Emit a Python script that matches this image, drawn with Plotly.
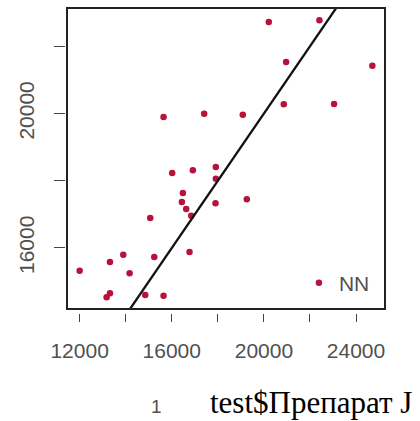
import numpy as np
import plotly.graph_objects as go

# data
nn_x = [20212, 22410, 20964, 24709, 20863, 23046, 15643, 17407, 19084, 16019,
        16916, 17913, 17913, 16482, 16439, 16627, 16843, 17899, 19258, 15065,
        13894, 15239, 16771, 13316, 12000, 14169, 13316, 13171, 14848, 15643]
nn_y = [22724, 22773, 21534, 21425, 20274, 20284, 19897, 19997, 19967, 18231,
        18311, 18410, 18063, 17636, 17369, 17160, 16962, 17329, 17448, 16893,
        15802, 15732, 15881, 15583, 15326, 15246, 14651, 14532, 14602, 14582]

x_tickvals = [12000, 14000, 16000, 18000, 20000, 22000, 24000]
x_ticktext = ["12000", "", "16000", "", "20000", "", "24000"]
y_tickvals = [16000, 18000, 20000, 22000]
y_ticktext = ["16000", "", "20000", ""]

x_range = [11451, 25258]
y_range = [14185, 23140]

# reference line y = a + b*x
line_a, line_b = 0.0, 1.0
line_x = np.array([10000, 26000])
line_y = line_a + line_b * line_x

fig = go.Figure()
fig.add_trace(go.Scatter(
    x=nn_x, y=nn_y, mode="markers", name="NN",
    marker=dict(color="#b8123c", size=6.5, line=dict(width=0)),
))
fig.add_trace(go.Scatter(
    x=line_x, y=line_y, mode="lines", showlegend=False,
    line=dict(color="#111111", width=2.3), hoverinfo="skip",
))

W, H = 420, 421
l, r, t, b = 65, 35, 8, 108
pw, ph = W - l - r, H - t - b

fig.update_layout(
    width=W, height=H,
    margin=dict(l=l, r=r, t=t, b=b, pad=0),
    paper_bgcolor="white", plot_bgcolor="white",
    font=dict(family="Liberation Sans, Arial, sans-serif", color="#505050"),
    showlegend=True,
    legend=dict(x=0.731, y=0.098, xanchor="left", yanchor="middle",
                bgcolor="rgba(0,0,0,0)", font=dict(size=21, color="#505050"),
                itemwidth=30),
    xaxis=dict(range=x_range, domain=[2 / pw, 1], anchor="free", position=0,
               showgrid=False, zeroline=False, showline=False,
               tickmode="array", tickvals=x_tickvals, ticktext=x_ticktext,
               ticks="outside", ticklen=8, tickwidth=1.3, tickcolor="#444444",
               tickfont=dict(size=21, color="#505050"), ticklabelstandoff=11),
    yaxis=dict(range=y_range, domain=[4 / ph, 1], anchor="free", position=0,
               showgrid=False, zeroline=False, showline=False,
               tickmode="array", tickvals=y_tickvals, ticktext=y_ticktext,
               ticks="outside", ticklen=11, tickwidth=1.3, tickcolor="#444444",
               tickangle=-90,
               tickfont=dict(size=21, color="#505050"), ticklabelstandoff=12),
    shapes=[dict(type="rect", xref="x domain", yref="y domain",
                 x0=0, x1=1, y0=0, y1=1,
                 line=dict(color="#222222", width=2))],
    annotations=[
        dict(text="1", xref="paper", yref="paper", x=(156.7 - l) / pw,
             y=(t + ph - 406.7) / ph, xanchor="center", yanchor="middle",
             showarrow=False, font=dict(size=19, color="#505050",
                                        family="Liberation Sans, Arial")),
        dict(text="test$Препарат J", xref="paper", yref="paper",
             x=(208 - l) / pw, y=(t + ph - 403) / ph,
             xanchor="left", yanchor="middle", showarrow=False,
             font=dict(size=31, color="#000000",
                       family="Liberation Serif, Times New Roman, serif")),
    ],
)

fig.write_html("out.html")
